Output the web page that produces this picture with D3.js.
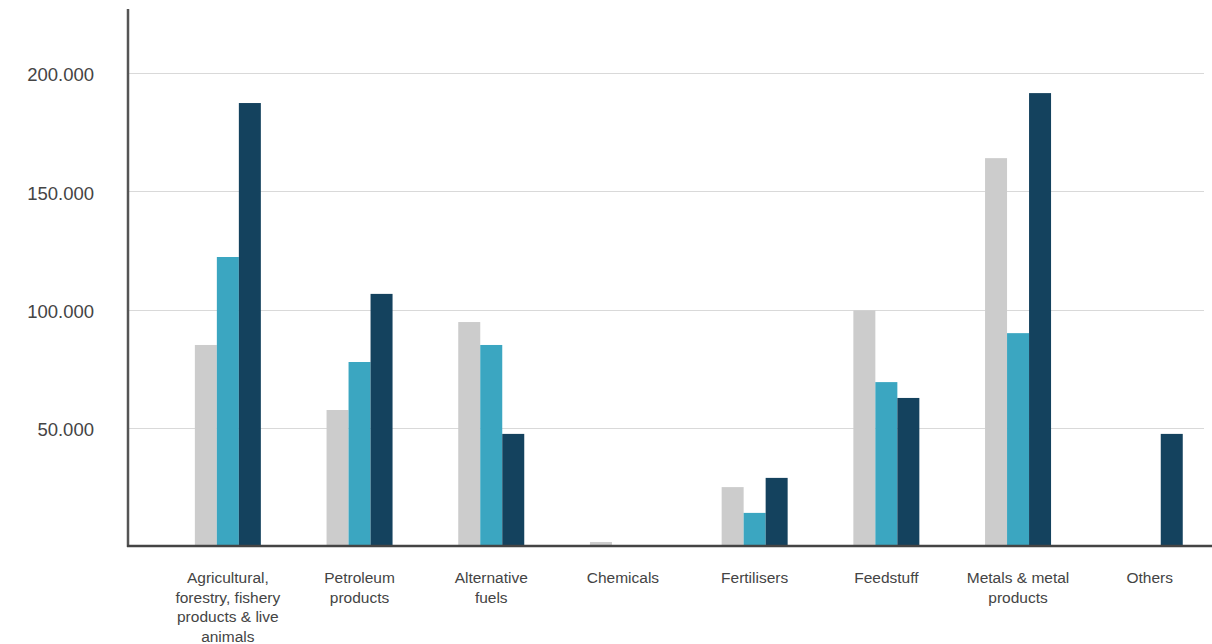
<!DOCTYPE html>
<html>
<head>
<meta charset="utf-8">
<script src="https://cdn.jsdelivr.net/npm/d3@7"></script>
<style>
  html, body { margin: 0; padding: 0; background: #fff; }
  svg { display: block; font-family: "Liberation Sans", Arial, Helvetica, sans-serif; }
</style>
</head>
<body>
<svg id="chart" width="1212" height="644"></svg>
<script>
// Cargo categories (label lines for the x axis)
const categories = [
  ["Agricultural,", "forestry, fishery", "products & live", "animals"],
  ["Petroleum", "products"],
  ["Alternative", "fuels"],
  ["Chemicals"],
  ["Fertilisers"],
  ["Feedstuff"],
  ["Metals & metal", "products"],
  ["Others"]
];

// Three series per category (tonnes)
const seriesA = [85000, 57500, 94700, 1700, 24900, 99600, 164000, 0];
const seriesB = [122200, 77800, 85000, 0, 14000, 69300, 90000, 0];
const seriesC = [187300, 106600, 47400, 0, 28800, 62600, 191500, 47400];

const seriesColors = ["#cccccc", "#3ba6c1", "#14425e"];
const yTicks = [50000, 100000, 150000, 200000];
const yTickLabels = ["50.000", "100.000", "150.000", "200.000"];

const svg = d3.select("#chart");
const axisX = 128, baseY = 546, topY = 9;

const x0 = d3.scaleBand()
  .domain(d3.range(categories.length))
  .range([162, 162 + 8 * 131.7])
  .paddingInner(0).paddingOuter(0);

const x1 = d3.scaleBand()
  .domain([0, 1, 2])
  .range([0, 66]);

const y = d3.scaleLinear().domain([0, 200000]).range([baseY, 73]);

// Horizontal grid lines
svg.append("g")
  .selectAll("line")
  .data(yTicks)
  .join("line")
  .attr("x1", axisX + 1)
  .attr("x2", 1204)
  .attr("y1", d => Math.round(y(d)) + 0.5)
  .attr("y2", d => Math.round(y(d)) + 0.5)
  .attr("stroke", "#d9d9d9")
  .attr("stroke-width", 1.2);

// Y tick labels
svg.append("g")
  .selectAll("text")
  .data(yTicks)
  .join("text")
  .attr("x", 94)
  .attr("y", d => y(d) + 2)
  .attr("dy", "0.35em")
  .attr("text-anchor", "end")
  .attr("fill", "#444")
  .attr("font-size", "18.5px")
  .text((d, i) => yTickLabels[i]);

// Bars
const series = [seriesA, seriesB, seriesC];
const groups = svg.append("g")
  .selectAll("g")
  .data(categories.map((c, i) => i))
  .join("g")
  .attr("transform", i => `translate(${x0(i) + (x0.bandwidth() - 66) / 2},0)`);

groups.selectAll("rect")
  .data(i => series.map((s, k) => ({ k, v: s[i] })))
  .join("rect")
  .filter(d => d.v > 0)
  .attr("x", d => x1(d.k))
  .attr("width", x1.bandwidth())
  .attr("y", d => y(d.v))
  .attr("height", d => baseY - y(d.v))
  .attr("fill", d => seriesColors[d.k]);

// Category labels
const labels = svg.append("g")
  .selectAll("text")
  .data(categories)
  .join("text")
  .attr("x", (d, i) => x0(i) + x0.bandwidth() / 2)
  .attr("y", 583)
  .attr("text-anchor", "middle")
  .attr("fill", "#444")
  .attr("font-size", "15.5px");

labels.selectAll("tspan")
  .data(d => d)
  .join("tspan")
  .attr("x", function () { return d3.select(this.parentNode).attr("x"); })
  .attr("dy", (d, j) => j === 0 ? 0 : 19.5)
  .text(d => d);

// Axis lines
svg.append("line")
  .attr("x1", axisX).attr("x2", axisX)
  .attr("y1", topY).attr("y2", baseY + 1)
  .attr("stroke", "#555").attr("stroke-width", 2.5);

svg.append("line")
  .attr("x1", axisX - 1).attr("x2", 1212)
  .attr("y1", baseY).attr("y2", baseY)
  .attr("stroke", "#444").attr("stroke-width", 2.5);
</script>
</body>
</html>
